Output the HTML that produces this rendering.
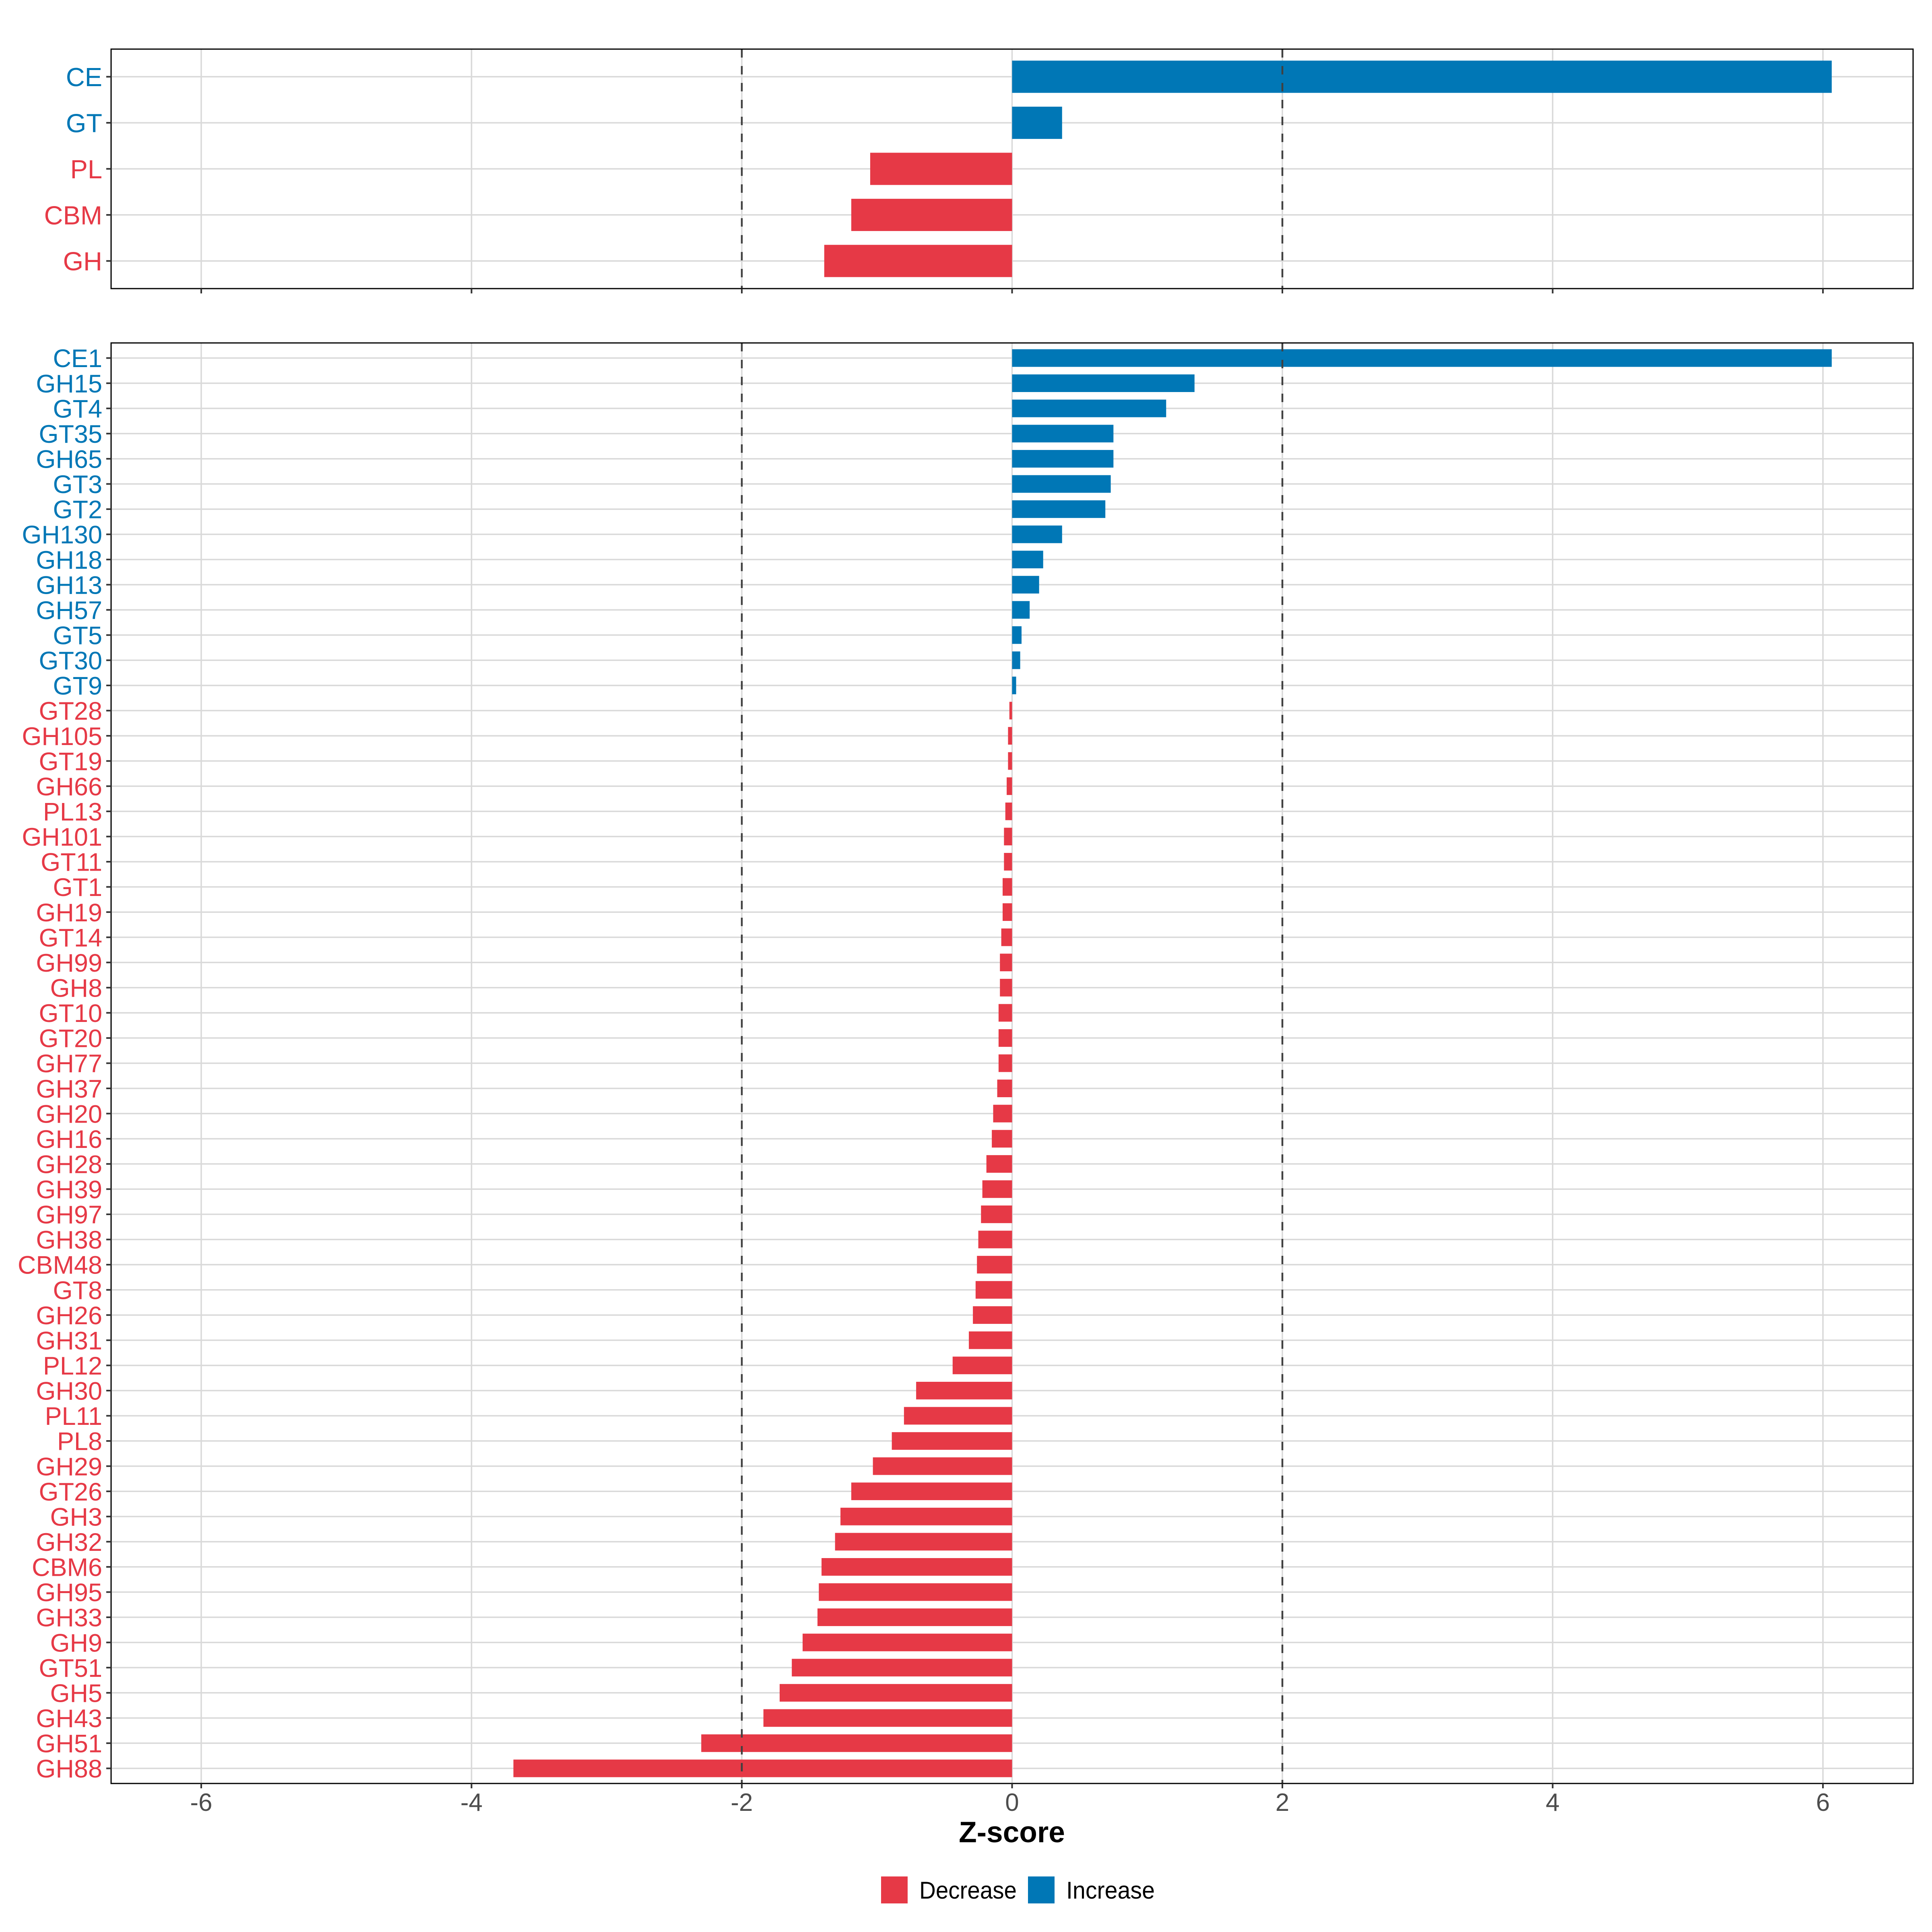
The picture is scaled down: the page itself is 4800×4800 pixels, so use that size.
<!DOCTYPE html>
<html><head><meta charset="utf-8"><style>
html,body{margin:0;padding:0;background:#fff;}
svg{display:block;font-family:"Liberation Sans",Arial,sans-serif;}
</style></head><body>
<svg id="chart" width="4800" height="4800" viewBox="0 0 4800 4800" xmlns="http://www.w3.org/2000/svg">
<rect width="4800" height="4800" fill="#fff"/>
<g id="top"></g>
<g id="bottom"></g>
<text x="2514" y="4577" text-anchor="middle" font-size="73" font-weight="bold" fill="#000">Z-score</text>
<g>
<rect x="2189" y="4662" width="66" height="67" fill="#E63946"/>
<text x="2284" y="4717" font-size="60" textLength="242" lengthAdjust="spacingAndGlyphs">Decrease</text>
<rect x="2554" y="4662" width="66" height="67" fill="#0077B6"/>
<text x="2649" y="4717" font-size="60" textLength="220" lengthAdjust="spacingAndGlyphs">Increase</text>
</g>
</svg>
<script>
const topCategories = ["CE","GT","PL","CBM","GH"];
const topValues = [6.065,0.37,-1.05,-1.19,-1.39];
const bottomCategories = ["CE1","GH15","GT4","GT35","GH65","GT3","GT2","GH130","GH18","GH13","GH57","GT5","GT30","GT9","GT28","GH105","GT19","GH66","PL13","GH101","GT11","GT1","GH19","GT14","GH99","GH8","GT10","GT20","GH77","GH37","GH20","GH16","GH28","GH39","GH97","GH38","CBM48","GT8","GH26","GH31","PL12","GH30","PL11","PL8","GH29","GT26","GH3","GH32","CBM6","GH95","GH33","GH9","GT51","GH5","GH43","GH51","GH88"];
const bottomValues = [6.065,1.35,1.14,0.75,0.75,0.73,0.69,0.37,0.23,0.2,0.13,0.07,0.06,0.03,-0.02,-0.03,-0.03,-0.04,-0.05,-0.06,-0.06,-0.07,-0.07,-0.08,-0.09,-0.09,-0.1,-0.1,-0.1,-0.11,-0.14,-0.15,-0.19,-0.22,-0.23,-0.25,-0.26,-0.27,-0.29,-0.32,-0.44,-0.71,-0.8,-0.89,-1.03,-1.19,-1.27,-1.31,-1.41,-1.43,-1.44,-1.55,-1.63,-1.72,-1.84,-2.3,-3.69];
const xTicks = [-6,-4,-2,0,2,4,6];
const xTickLabels = ["-6","-4","-2","0","2","4","6"];
const thresholds = [-2,2];

const NS="http://www.w3.org/2000/svg";
const L=276,R=4753,XMIN=-6.667,XMAX=6.667;
function xs(v){return L+(v-XMIN)/(XMAX-XMIN)*(R-L);}
function mk(parent,tag,attrs){const e=document.createElementNS(NS,tag);for(const k in attrs)e.setAttribute(k,attrs[k]);parent.appendChild(e);return e;}

function panel(g,cats,vals,top,bottom,labelSize,showX,prefix){
  const n=cats.length;
  const step=(bottom-top)/(n+0.2);
  const ys=i=>top+0.6*step+i*step;
  const bw=0.7*step;
  xTicks.forEach((t,i)=>{
    const l=mk(g,'line',{x1:xs(t),x2:xs(t),y1:top,y2:bottom,stroke:'#d9d9d9','stroke-width':3.5});
    
    
  });
  cats.forEach((c,i)=>{
    const l=mk(g,'line',{x1:L,x2:R,y1:ys(i),y2:ys(i),stroke:'#d9d9d9','stroke-width':3.5});
    
    
  });
  vals.forEach((v,i)=>{
    const x0=xs(0),x1=xs(v);
    const r=mk(g,'rect',{x:Math.min(x0,x1),y:ys(i)-bw/2,width:Math.abs(x1-x0),height:bw,fill:v>=0?'#0077B6':'#E63946'});
    
    
  });
  thresholds.forEach(t=>{
    const l=mk(g,'line',{x1:xs(t),x2:xs(t),y1:top,y2:bottom,stroke:'#404040','stroke-width':4.5,'stroke-dasharray':'21 21'});
    
    
  });
  const b=mk(g,'rect',{x:L,y:top,width:R-L,height:bottom-top,fill:'none',stroke:'#000','stroke-width':3});
  
  
  cats.forEach((c,i)=>{
    mk(g,'line',{x1:L-12,x2:L,y1:ys(i),y2:ys(i),stroke:'#333','stroke-width':4});
    const t=mk(g,'text',{x:254,y:ys(i)+labelSize*0.36,'text-anchor':'end','font-size':labelSize,fill:vals[i]>=0?'#0077B6':'#E63946'});
    t.textContent=c;
    
    
  });
  xTicks.forEach((t,i)=>{
    mk(g,'line',{x1:xs(t),x2:xs(t),y1:bottom,y2:bottom+12,stroke:'#333','stroke-width':4});
    if(showX){
      const tx=mk(g,'text',{x:xs(t),y:4499,'text-anchor':'middle','font-size':62,fill:'#4d4d4d'});
      tx.textContent=xTickLabels[i];
      
      
    }
  });
}
panel(document.getElementById('top'),topCategories,topValues,122,717,65,false,'top');
panel(document.getElementById('bottom'),bottomCategories,bottomValues,852,4431,63,true,'bottom');
</script>
</body></html>
